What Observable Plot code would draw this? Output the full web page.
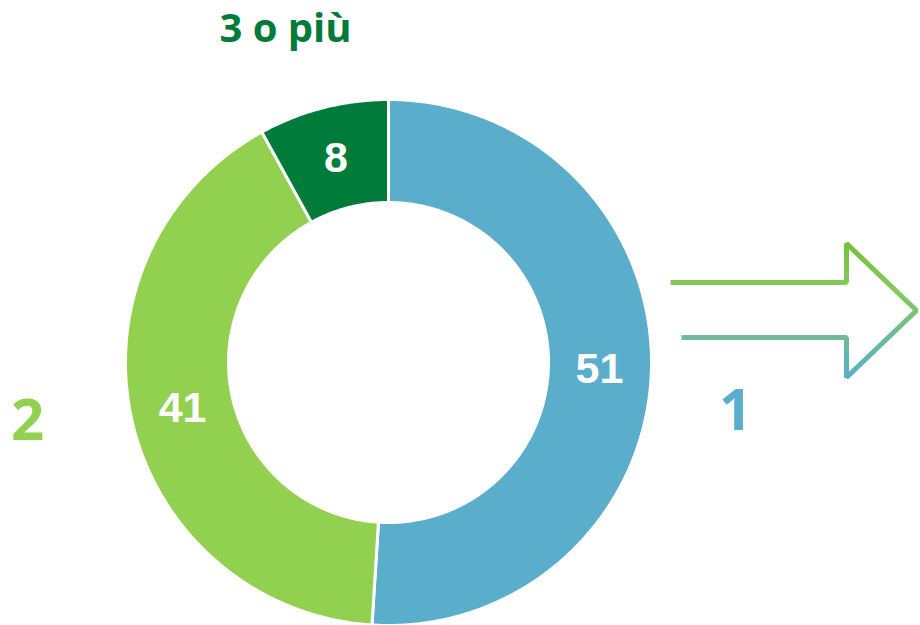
<!DOCTYPE html>
<html>
<head>
<meta charset="utf-8">
<script src="https://cdn.jsdelivr.net/npm/d3@7"></script>
<script src="https://cdn.jsdelivr.net/npm/@observablehq/plot@0.6"></script>
<style>
  html, body { margin: 0; padding: 0; background: #fff; overflow: hidden; }
  #chart svg { display: block; }
</style>
</head>
<body>
<div id="chart"></div>
<script>
// ---- data ----
const categories = ["1", "2", "3 o più"];
const values = [51, 41, 8];
const sliceColors = ["#5aaecb", "#92d050", "#007b3a"];
const labelColors = ["#5aaecb", "#92d050", "#007b3a"];

// ---- layout (in scale units, center of donut = 0,0) ----
const R_OUT = 263, R_IN = 160, R_LABEL = 211;
const catLabelPos = { "1": [347, -49], "2": [-361, -59], "3 o più": [-103, 333] };
const catLabelSize = { "1": 58, "2": 58, "3 o più": 40 };
const arrowShape = [[282, 80], [458, 80], [458, 119], [528, 52], [458, -15], [458, 25], [293, 25]];

// ---- build slices ----
const total = d3.sum(values);
let acc = 0;
const slices = categories.map((c, i) => {
  const a0 = acc / total * 2 * Math.PI;
  acc += values[i];
  const a1 = acc / total * 2 * Math.PI;
  return { cat: c, value: values[i], a0, a1, mid: (a0 + a1) / 2 };
});
const pt = (r, a) => ({ x: r * Math.sin(a), y: r * Math.cos(a) });
const polyPts = [];
for (const s of slices) {
  const n = Math.max(4, Math.ceil((s.a1 - s.a0) / (Math.PI / 360)));
  const ring = [];
  for (let k = 0; k <= n; k++) ring.push(pt(R_OUT, s.a0 + (s.a1 - s.a0) * k / n));
  for (let k = n; k >= 0; k--) ring.push(pt(R_IN, s.a0 + (s.a1 - s.a0) * k / n));
  ring.push(ring[0]);
  for (const p of ring) polyPts.push({ ...p, cat: s.cat });
}
const valueLabels = slices.map(s => ({ ...pt(R_LABEL, s.mid), text: String(s.value) }));
const catLabels = categories.map((c, i) => ({ x: catLabelPos[c][0], y: catLabelPos[c][1], text: c, color: labelColors[i], size: catLabelSize[c] }));
const arrowPts = arrowShape.map(([x, y]) => ({ x, y }));

const gradDefs = () => {
  const defs = d3.create("svg:defs");
  const g = defs.append("linearGradient").attr("id", "arrowGrad")
    .attr("x1", 0).attr("y1", 0).attr("x2", 0).attr("y2", 1);
  g.append("stop").attr("offset", "0%").attr("stop-color", "#74c13f");
  g.append("stop").attr("offset", "35%").attr("stop-color", "#86c95e");
  g.append("stop").attr("offset", "100%").attr("stop-color", "#5aaecb");
  return defs.node();
};

const chart = Plot.plot({
  width: 920,
  height: 625,
  margin: 0,
  x: { domain: [-388, 532], axis: null },
  y: { domain: [-263, 362], axis: null },
  color: { domain: categories, range: sliceColors },
  style: { background: "#fff" },
  marks: [
    gradDefs,
    Plot.line(polyPts, { x: "x", y: "y", z: "cat", fill: "cat", stroke: "white", strokeWidth: 3, curve: "linear" }),
    Plot.text(valueLabels, { x: "x", y: "y", text: "text", fill: "white", fontSize: 43, fontWeight: "bold", fontFamily: "Liberation Sans, Arial, sans-serif" }),
    ...catLabels.map(d => Plot.text([d], { x: "x", y: "y", text: "text", fill: d.color, fontSize: d.size, fontWeight: "bold", fontFamily: "Open Sans, sans-serif" })),
    Plot.line(arrowPts, { x: "x", y: "y", stroke: "url(#arrowGrad)", strokeWidth: 5, strokeLinejoin: "miter", strokeLinecap: "butt", curve: "linear" })
  ]
});
document.getElementById("chart").appendChild(chart);
</script>
</body>
</html>
